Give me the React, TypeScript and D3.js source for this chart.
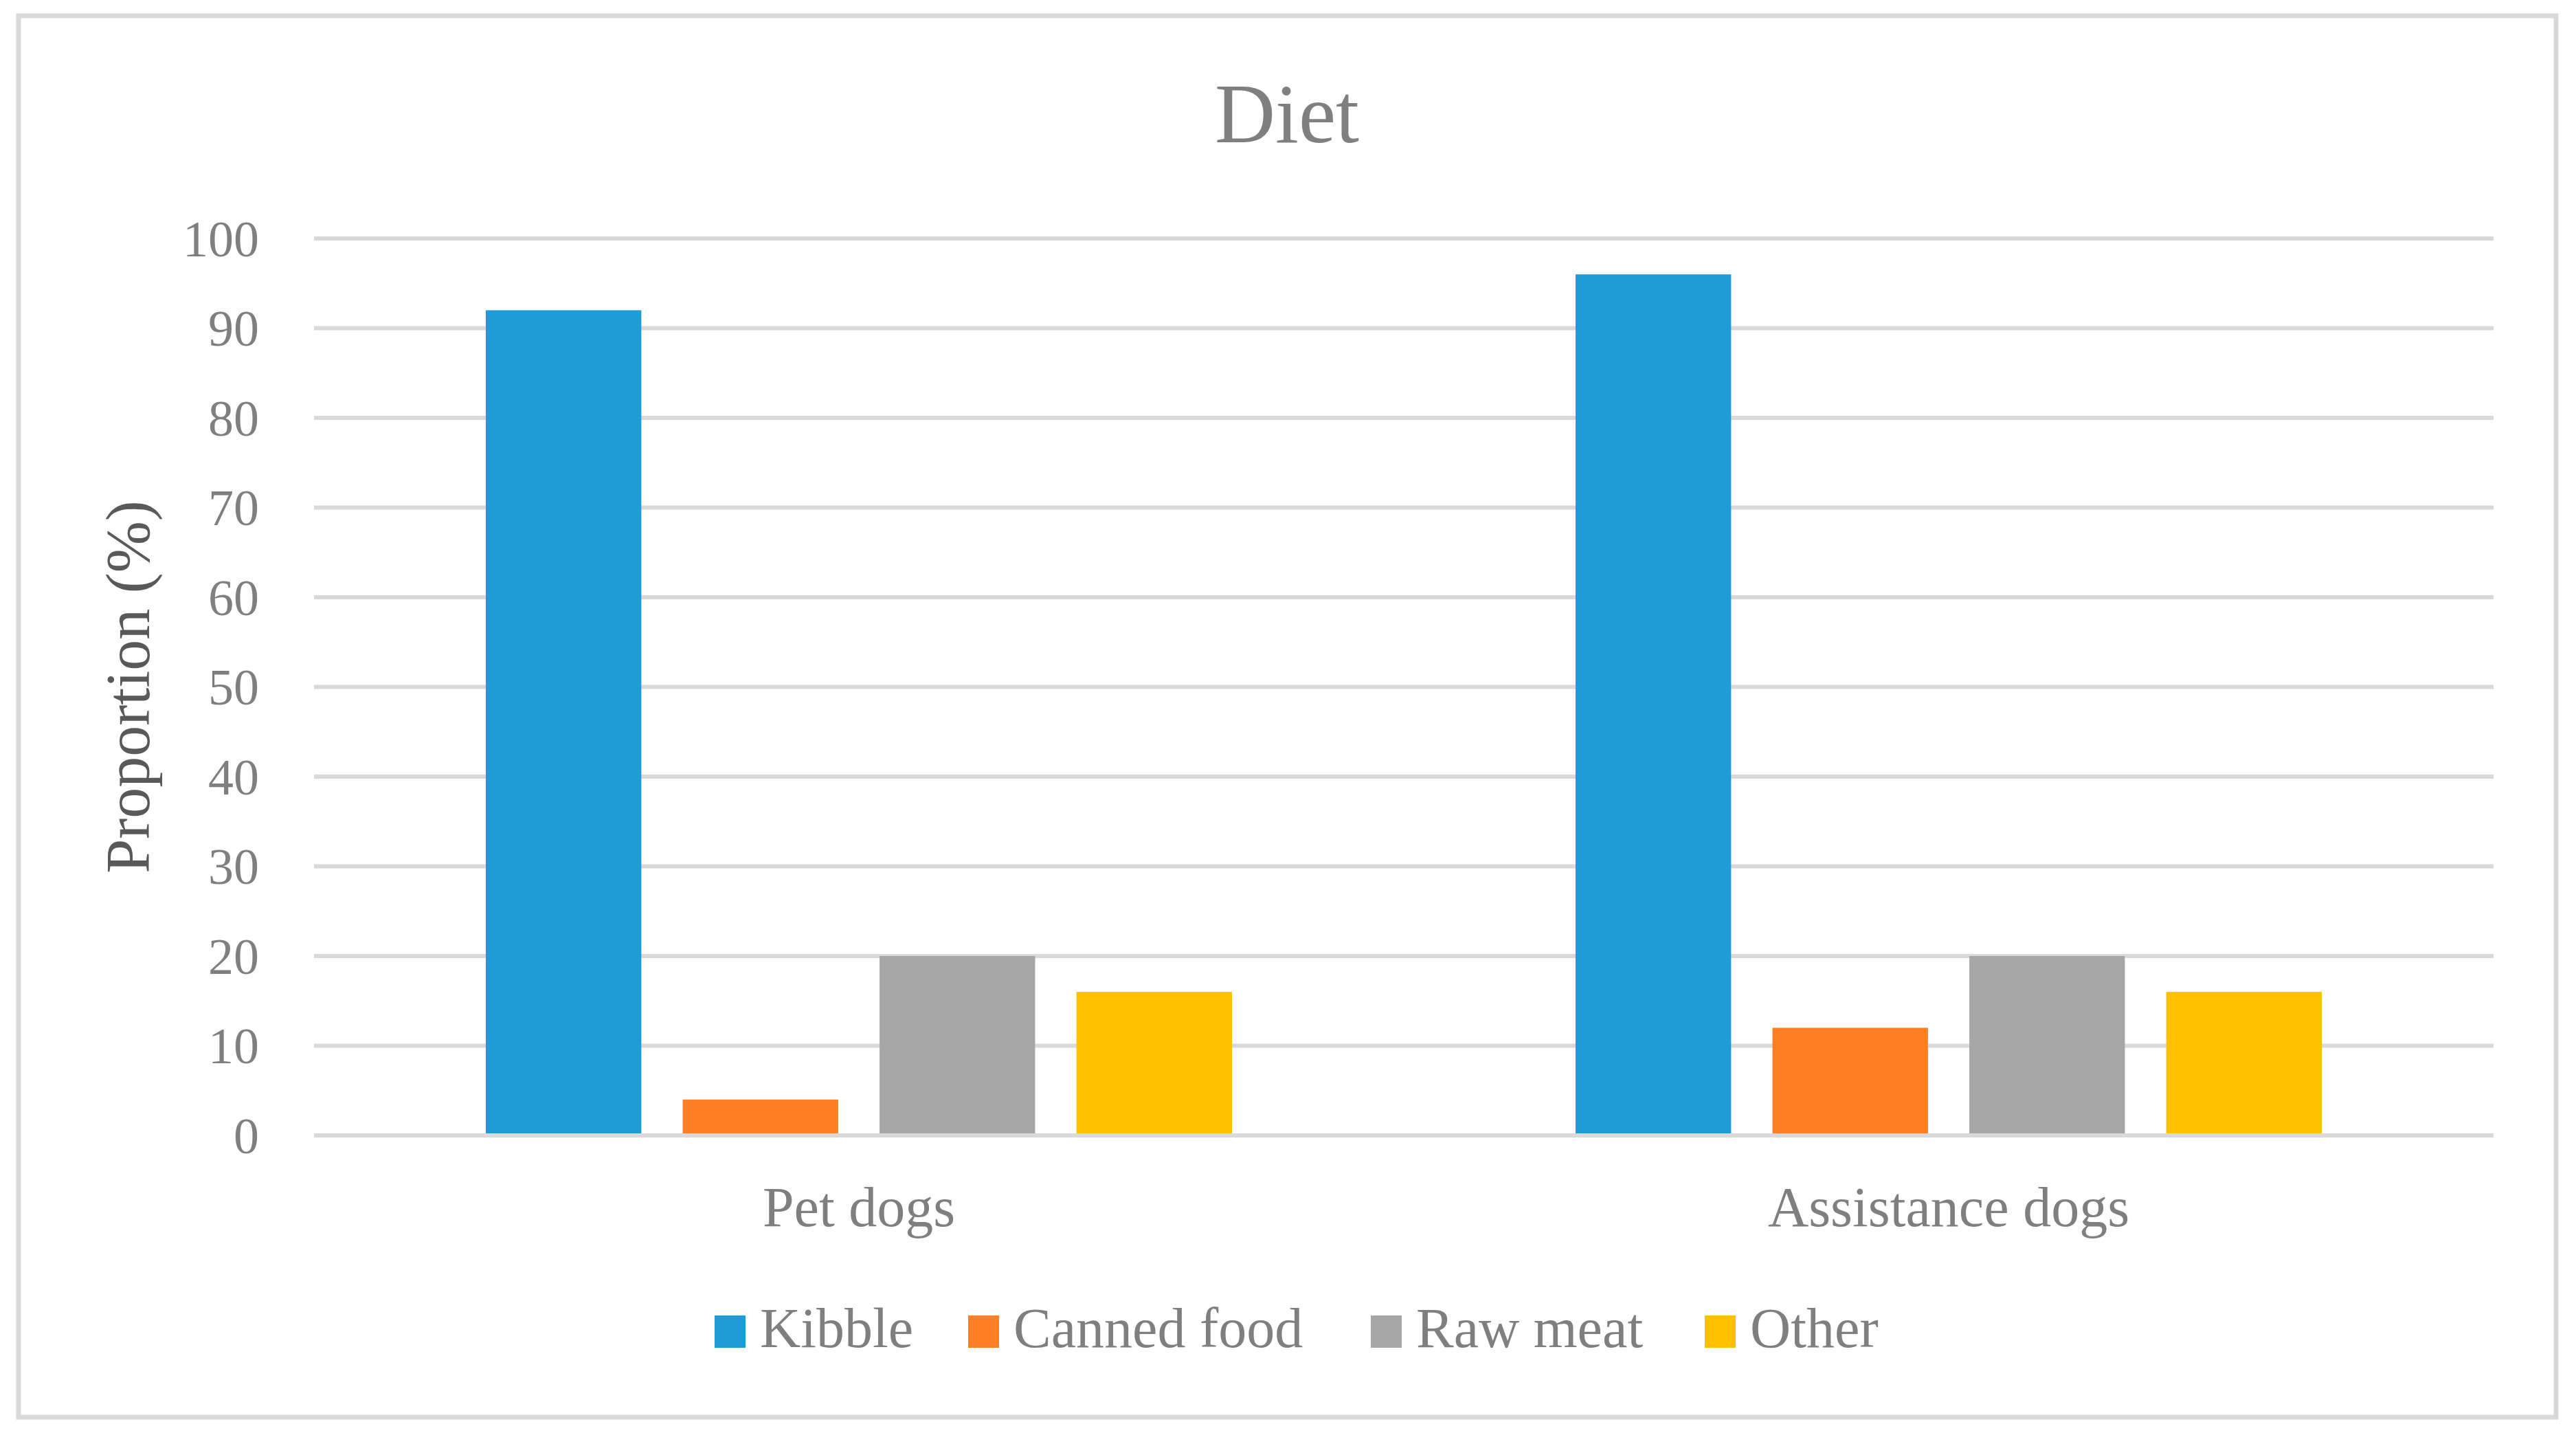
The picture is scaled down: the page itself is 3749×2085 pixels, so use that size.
import { useEffect, useRef } from 'react';
import * as d3 from 'd3';

const categories = ['Pet dogs', 'Assistance dogs'];
const seriesNames = ['Kibble', 'Canned food', 'Raw meat', 'Other'];
const seriesColors = ['#1e9cd7', '#ff7f27', '#a6a6a6', '#ffc000'];
const kibble = [92, 96];
const cannedFood = [4, 12];
const rawMeat = [20, 20];
const other = [16, 16];
const yTicks = [0, 10, 20, 30, 40, 50, 60, 70, 80, 90, 100];

const W = 3749;
const H = 2085;
const FONT = '"Liberation Serif", "Times New Roman", serif';

export default function App() {
	const svgRef = useRef(null);

	useEffect(() => {
		const svg = d3.select(svgRef.current);
		svg.selectAll('*').remove();

		const plot = { left: 457, right: 3629, top: 347, bottom: 1652 };
		const values = [kibble, cannedFood, rawMeat, other];

		// outer frame
		svg.append('rect')
			.attr('x', 27).attr('y', 23)
			.attr('width', 3720 - 27).attr('height', 2062 - 23)
			.attr('fill', '#fff')
			.attr('stroke', '#d9d9d9')
			.attr('stroke-width', 7);

		svg.append('text')
			.attr('x', 1873).attr('y', 207)
			.attr('text-anchor', 'middle')
			.style('font-family', FONT)
			.style('font-size', '122px')
			.style('fill', '#7f7f7f')
			.text('Diet');

		const x0 = d3.scaleBand()
			.domain(categories)
			.range([plot.left, plot.right]);

		const x1 = d3.scaleBand()
			.domain(seriesNames)
			.range([250, x0.bandwidth() - 250])
			.paddingInner(0.21);

		const y = d3.scaleLinear()
			.domain([0, 100])
			.range([plot.bottom, plot.top]);

		// gridlines
		svg.append('g')
			.selectAll('line')
			.data(yTicks)
			.join('line')
			.attr('x1', plot.left)
			.attr('x2', plot.right)
			.attr('y1', d => y(d))
			.attr('y2', d => y(d))
			.attr('stroke', '#d9d9d9')
			.attr('stroke-width', 6);

		// y tick labels
		svg.append('g')
			.selectAll('text')
			.data(yTicks)
			.join('text')
			.attr('x', 377)
			.attr('y', d => y(d))
			.attr('dy', '0.35em')
			.attr('text-anchor', 'end')
			.style('font-family', FONT)
			.style('font-size', '74px')
			.style('fill', '#7f7f7f')
			.text(d => d);

		// bars
		const groups = svg.append('g')
			.selectAll('g')
			.data(categories)
			.join('g')
			.attr('transform', d => `translate(${x0(d)},0)`);

		groups.selectAll('rect')
			.data((_, ci) => seriesNames.map((s, si) => ({ s, si, v: values[si][ci] })))
			.join('rect')
			.attr('x', d => x1(d.s))
			.attr('width', x1.bandwidth())
			.attr('y', d => y(d.v))
			.attr('height', d => y(0) - y(d.v) - 3)
			.attr('fill', d => seriesColors[d.si]);

		// category labels
		svg.append('g')
			.selectAll('text')
			.data(categories)
			.join('text')
			.attr('x', d => x0(d) + x0.bandwidth() / 2)
			.attr('y', 1784)
			.attr('text-anchor', 'middle')
			.style('font-family', FONT)
			.style('font-size', '82px')
			.style('fill', '#7f7f7f')
			.text(d => d);

		// y axis title
		svg.append('text')
			.attr('transform', `translate(217, ${(plot.top + plot.bottom) / 2}) rotate(-90)`)
			.attr('text-anchor', 'middle')
			.style('font-family', FONT)
			.style('font-size', '90px')
			.style('fill', '#595959')
			.text('Proportion (%)');

		// legend
		const legendX = [1040, 1409, 1995, 2481];
		const legend = svg.append('g')
			.selectAll('g')
			.data(seriesNames)
			.join('g')
			.attr('transform', (_, i) => `translate(${legendX[i]},0)`);

		legend.append('rect')
			.attr('x', 0).attr('y', 1914)
			.attr('width', 45).attr('height', 47)
			.attr('fill', (_, i) => seriesColors[i]);

		legend.append('text')
			.attr('x', 66).attr('y', 1960)
			.style('font-family', FONT)
			.style('font-size', '82px')
			.style('fill', '#7f7f7f')
			.text(d => d);
	}, []);

	return (
		<svg
			ref={svgRef}
			width={W}
			height={H}
			style={{ position: 'absolute', left: 0, top: 0, background: '#fff' }}
		/>
	);
}
